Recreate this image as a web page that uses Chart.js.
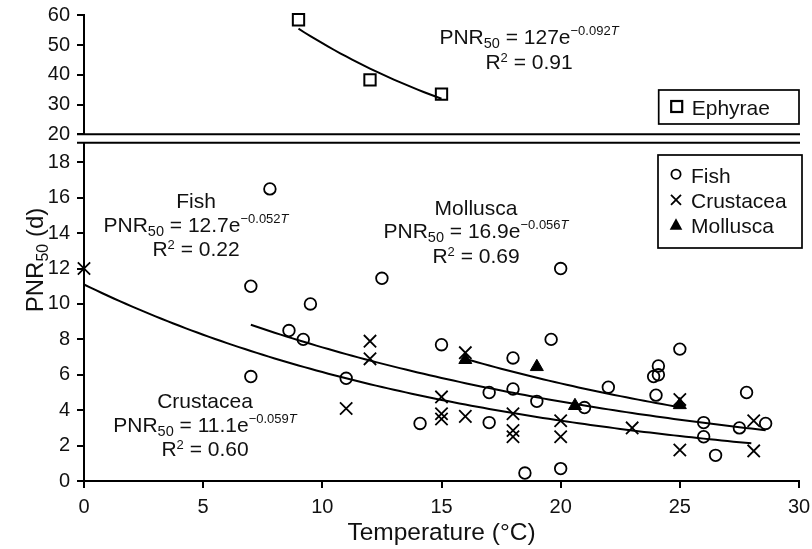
<!DOCTYPE html>
<html lang="en">
<head>
<meta charset="UTF-8">
<title>PNR50 vs temperature</title>
<script src="https://cdn.jsdelivr.net/npm/chart.js"></script>
<style>
  body { margin: 0; background: #fff; }
  .wrap { position: relative; width: 812px; height: 549px; }
  .wrap canvas { position: absolute; left: 0; top: 0; }
</style>
</head>
<body>
<div class="wrap">
  <canvas id="topChart" width="812" height="549"></canvas>
  <canvas id="mainChart" width="812" height="549"></canvas>
</div>
<script>
  /*** DATA ***/
  const xTicks = [0, 5, 10, 15, 20, 25, 30];
  const yTicksTop = [20, 30, 40, 50, 60];
  const yTicksMain = [0, 2, 4, 6, 8, 10, 12, 14, 16, 18];

  const ephyraeT = [9, 12, 15];
  const ephyraeP = [58.5, 38.3, 33.5];

  const fishT = [7.8, 7, 9.5, 8.6, 9.2, 7, 11, 14.1, 12.5, 20, 15, 19.6, 18, 17, 18, 19, 17, 21, 22,
                 18.5, 20, 25, 24.1, 24.1, 23.9, 24, 27.8, 26, 26, 26.5, 27.5, 28.6];
  const fishP = [16.5, 11, 10, 8.5, 8.0, 5.9, 5.8, 3.25, 11.45, 12, 7.7, 8.0, 6.95, 5.0, 5.2, 4.5, 3.3, 4.15, 5.3,
                 0.45, 0.7, 7.45, 6.5, 6.0, 5.9, 4.85, 5.0, 3.3, 2.5, 1.45, 3.0, 3.25];

  const crustT = [0, 12, 12, 11, 16, 15, 15, 15, 16, 18, 18, 18, 20, 20, 23, 25, 25, 28.1, 28.1];
  const crustP = [12, 7.9, 6.9, 4.1, 7.25, 4.75, 3.8, 3.5, 3.65, 3.8, 2.85, 2.5, 3.4, 2.5, 3.0, 4.6, 1.75, 3.4, 1.7];

  const mollT = [16, 19, 20.6, 25];
  const mollP = [6.85, 6.45, 4.25, 4.3];

  // fitted curves: PNR50 = a * e^(b*T)
  const fitGroups = ['Ephyrae', 'Fish', 'Crustacea', 'Mollusca'];
  const fitA = [127, 12.7, 11.1, 16.9];
  const fitB = [-0.092, -0.052, -0.059, -0.056];
  const fitR2 = [0.91, 0.22, 0.60, 0.69];
  const fitFrom = [9, 7, 0, 16];
  const fitTo = [15, 28.6, 28, 25];

  /*** STYLE ***/
  const FONT = '"Liberation Sans", Arial, Helvetica, sans-serif';
  const INK = '#111';
  // where each equation block is centred (x, baseline of the PNR line)
  const notePos = [[529, 44.3], [196, 231.7], [205, 431.7], [476, 238.3]];

  function tickList(values) {
    return axis => { axis.ticks = values.map(v => ({ value: v })); };
  }

  function toXY(xs, ys) {
    return xs.map((x, i) => ({ x: x, y: ys[i] }));
  }

  function curvePoints(i) {
    const pts = [];
    for (let t = fitFrom[i]; t < fitTo[i]; t += 0.25) {
      pts.push({ x: t, y: fitA[i] * Math.exp(fitB[i] * t) });
    }
    pts.push({ x: fitTo[i], y: fitA[i] * Math.exp(fitB[i] * fitTo[i]) });
    return pts;
  }

  function curveSet(i) {
    return { label: fitGroups[i] + ' fit', data: curvePoints(i), showLine: true, borderColor: '#000',
             borderWidth: 2, pointRadius: 0, tension: 0, fill: false, clip: false };
  }

  function pointSet(label, data, style, radius, fill, width) {
    return { label: label, data: data, pointStyle: style, pointRadius: radius, borderColor: '#000',
             backgroundColor: fill, pointBorderWidth: width, borderWidth: width, showLine: false, clip: false };
  }

  function xAxis(show) {
    return {
      type: 'linear', min: 0, max: 30, display: show,
      afterBuildTicks: tickList(xTicks),
      afterFit: s => {
        // keep the plot edge fixed, the "30" label may hang over the padding
        s.paddingLeft = 0;
        s.paddingRight = 0;
        if (show) s.height = 68;
      },
      grid: { drawOnChartArea: false, tickLength: 7, lineWidth: 2, color: '#000' },
      border: { color: '#000', width: 2 },
      ticks: { color: INK, font: { family: FONT, size: 20 }, padding: 7, maxRotation: 0, autoSkip: false },
      title: { display: true, text: 'Temperature (°C)', color: INK, font: { family: FONT, size: 24.5 },
               padding: { top: 0, bottom: 1 } }
    };
  }

  function yAxis(min, max, ticks) {
    return {
      type: 'linear', min: min, max: max,
      afterBuildTicks: tickList(ticks),
      afterFit: s => { s.width = 84; s.paddingTop = 0; s.paddingBottom = 0; },
      grid: { drawOnChartArea: false, tickLength: 7, lineWidth: 2, color: '#000' },
      border: { color: '#000', width: 2 },
      ticks: { color: INK, font: { family: FONT, size: 20 }, padding: 7, autoSkip: false }
    };
  }

  /*** TEXT HELPERS ***/
  // runs: [text, size, baseline shift, italic]
  function drawRich(ctx, runs, cx, y) {
    let w = 0;
    runs.forEach(r => { ctx.font = (r[3] ? 'italic ' : '') + r[1] + 'px ' + FONT; w += ctx.measureText(r[0]).width; });
    let x = cx - w / 2;
    ctx.textAlign = 'left';
    ctx.textBaseline = 'alphabetic';
    runs.forEach(r => {
      ctx.font = (r[3] ? 'italic ' : '') + r[1] + 'px ' + FONT;
      ctx.fillText(r[0], x, y + r[2]);
      x += ctx.measureText(r[0]).width;
    });
  }

  function drawNote(ctx, i, withName) {
    const cx = notePos[i][0], y = notePos[i][1];
    ctx.fillStyle = INK;
    if (withName) drawRich(ctx, [[fitGroups[i], 21, 0]], cx, y - 23.5);
    drawRich(ctx, [['PNR', 21, 0], ['50', 14.5, 4], [' = ' + fitA[i] + 'e', 21, 0],
                   ['\u2212' + Math.abs(fitB[i]).toFixed(3), 13, -9], ['T', 13, -9, true]], cx, y);
    drawRich(ctx, [['R', 21, 0], ['2', 13, -7], [' = ' + fitR2[i].toFixed(2), 21, 0]], cx, y + 24.5);
  }

  function drawMarker(ctx, kind, x, y) {
    ctx.save();
    ctx.strokeStyle = '#000';
    ctx.fillStyle = '#000';
    ctx.lineWidth = 1.8;
    ctx.beginPath();
    if (kind === 'circle') {
      ctx.arc(x, y, 4.6, 0, Math.PI * 2);
      ctx.stroke();
    } else if (kind === 'cross') {
      ctx.moveTo(x - 5, y - 5); ctx.lineTo(x + 5, y + 5);
      ctx.moveTo(x + 5, y - 5); ctx.lineTo(x - 5, y + 5);
      ctx.stroke();
    } else if (kind === 'triangle') {
      ctx.moveTo(x, y - 6.5); ctx.lineTo(x + 6.3, y + 5); ctx.lineTo(x - 6.3, y + 5);
      ctx.closePath();
      ctx.fill();
    } else {
      ctx.lineWidth = 2.2;
      ctx.strokeRect(x - 5.5, y - 5.5, 11, 11);
    }
    ctx.restore();
  }

  function drawLegend(ctx, box, items) {
    ctx.save();
    ctx.strokeStyle = '#000';
    ctx.lineWidth = 1.7;
    ctx.strokeRect(box[0], box[1], box[2], box[3]);
    items.forEach(it => {
      drawMarker(ctx, it[1], box[0] + 18, it[2] - 8.5);
      ctx.fillStyle = INK;
      ctx.font = '21px ' + FONT;
      ctx.textAlign = 'left';
      ctx.textBaseline = 'alphabetic';
      ctx.fillText(it[0], box[0] + 33, it[2]);
    });
    ctx.restore();
  }

  function breakLine(ctx, area, y) {
    ctx.save();
    ctx.strokeStyle = '#000';
    ctx.lineWidth = 2;
    ctx.beginPath();
    ctx.moveTo(area.left - 7, y);
    ctx.lineTo(area.right + 1, y);
    ctx.stroke();
    ctx.restore();
  }

  Chart.defaults.font.family = FONT;
  Chart.defaults.color = INK;

  /*** UPPER PANEL: EPHYRAE ***/
  const topNotes = {
    id: 'topNotes',
    afterDraw(chart) {
      const ctx = chart.ctx;
      breakLine(ctx, chart.chartArea, chart.scales.y.getPixelForValue(20));
      drawNote(ctx, 0, false);
      drawLegend(ctx, [658.7, 90, 140.3, 34], [['Ephyrae', 'square', 115]]);
    }
  };

  new Chart(document.getElementById('topChart'), {
    type: 'scatter',
    data: {
      datasets: [
        curveSet(0),
        pointSet('Ephyrae', toXY(ephyraeT, ephyraeP), 'rect', 8, 'rgba(0,0,0,0)', 2)
      ]
    },
    options: {
      responsive: false,
      animation: false,
      events: [],
      layout: { padding: { top: 15.3, bottom: 549 - 134.3, left: 0, right: 13 } },
      scales: { x: xAxis(false), y: yAxis(20, 60, yTicksTop) },
      plugins: { legend: { display: false }, tooltip: { enabled: false } }
    },
    plugins: [topNotes]
  });

  /*** LOWER PANEL: FISH, CRUSTACEA, MOLLUSCA ***/
  const mainNotes = {
    id: 'mainNotes',
    afterDraw(chart) {
      const ctx = chart.ctx;
      breakLine(ctx, chart.chartArea, chart.chartArea.top);
      drawNote(ctx, 1, true);
      drawNote(ctx, 2, true);
      drawNote(ctx, 3, true);
      drawLegend(ctx, [658, 155, 144, 93], [['Fish', 'circle', 182.7], ['Crustacea', 'cross', 208.3], ['Mollusca', 'triangle', 233.3]]);

      // y axis title with subscript
      ctx.save();
      ctx.translate(42.5, 260);
      ctx.rotate(-Math.PI / 2);
      ctx.fillStyle = INK;
      drawRich(ctx, [['PNR', 24, 0], ['50', 16, 5], [' (d)', 24, 0]], 0, 0);
      ctx.restore();
    }
  };

  new Chart(document.getElementById('mainChart'), {
    type: 'scatter',
    data: {
      datasets: [
        curveSet(1),
        curveSet(2),
        curveSet(3),
        pointSet('Fish', toXY(fishT, fishP), 'circle', 5.8, 'rgba(0,0,0,0)', 1.8),
        pointSet('Crustacea', toXY(crustT, crustP), 'crossRot', 8.7, 'rgba(0,0,0,0)', 1.8),
        pointSet('Mollusca', toXY(mollT, mollP), 'triangle', 7.5, '#000', 1)
      ]
    },
    options: {
      responsive: false,
      animation: false,
      events: [],
      layout: { padding: { top: 142.7, bottom: 0, left: 0, right: 13 } },
      scales: { x: xAxis(true), y: yAxis(0, 19.11, yTicksMain) },
      plugins: { legend: { display: false }, tooltip: { enabled: false } }
    },
    plugins: [mainNotes]
  });
</script>
</body>
</html>
